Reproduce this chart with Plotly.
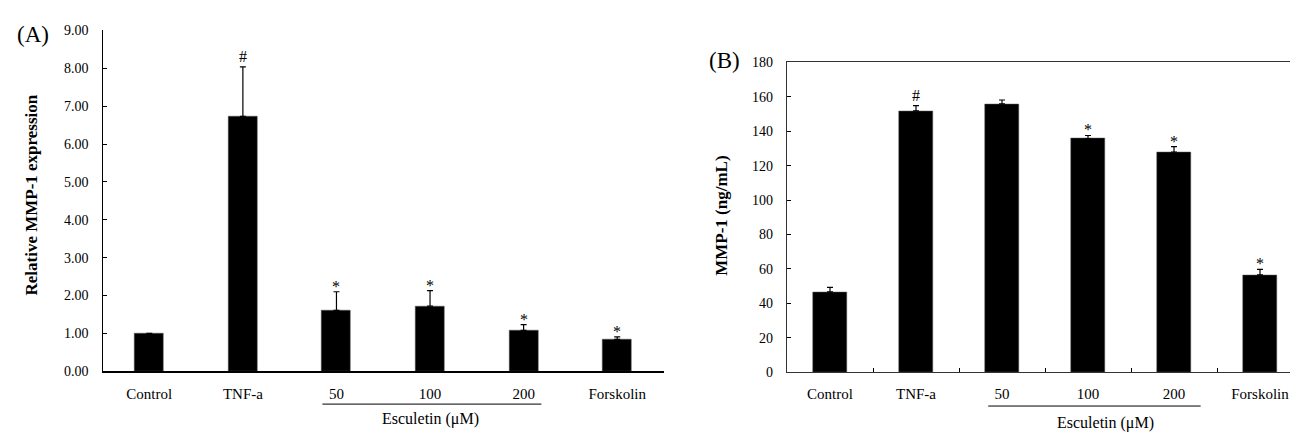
import plotly.graph_objects as go

categories = ["Control", "TNF-a", "50", "100", "200", "Forskolin"]

# Panel A: relative MMP-1 expression
a_values = [1.00, 6.73, 1.61, 1.72, 1.08, 0.84]
a_errors = [0.00, 1.31, 0.49, 0.41, 0.15, 0.07]
a_marks = ["", "#", "*", "*", "*", "*"]

# Panel B: MMP-1 (ng/mL)
b_values = [46.7, 151.8, 155.9, 135.7, 127.9, 56.5]
b_errors = [2.6, 3.0, 2.2, 1.8, 3.1, 3.3]
b_marks = ["", "#", "", "*", "*", "*"]

FONT = "Liberation Serif"

fig = go.Figure()

fig.add_trace(go.Bar(
    x=categories, y=a_values, xaxis="x", yaxis="y",
    marker=dict(color="black", line=dict(color="#555", width=0.5)),
    width=0.31,
    error_y=dict(type="data", array=a_errors, arrayminus=[0]*len(a_errors),
                 symmetric=False, color="black", thickness=1.2, width=3),
    showlegend=False,
))
fig.add_trace(go.Bar(
    x=categories, y=b_values, xaxis="x2", yaxis="y2",
    marker=dict(color="black", line=dict(color="#555", width=0.5)),
    width=0.4,
    error_y=dict(type="data", array=b_errors, arrayminus=[0]*len(b_errors),
                 symmetric=False, color="black", thickness=1.2, width=3),
    showlegend=False,
))

annotations = []
for i, (v, e, m) in enumerate(zip(a_values, a_errors, a_marks)):
    if m:
        annotations.append(dict(x=i, y=v + e, xref="x", yref="y", text=m, showarrow=False,
                                yanchor="bottom", yshift=(0 if m == "#" else -5),
                                font=dict(family=FONT, size=16, color="black")))
for i, (v, e, m) in enumerate(zip(b_values, b_errors, b_marks)):
    if m:
        annotations.append(dict(x=i, y=v + e, xref="x2", yref="y2", text=m, showarrow=False,
                                yanchor="bottom", yshift=(0 if m == "#" else -5),
                                font=dict(family=FONT, size=16, color="black")))

# Panel labels and axis titles
annotations += [
    dict(x=25 / 1298, y=1 - 20 / 435, xref="paper", yref="paper", text="(A)", showarrow=False,
         xanchor="center", yanchor="middle", font=dict(family=FONT, size=23, color="black")),
    dict(x=716 / 1298, y=1 - 47 / 435, xref="paper", yref="paper", text="(B)", showarrow=False,
         xanchor="center", yanchor="middle", font=dict(family=FONT, size=23, color="black")),
    dict(x=24 / 1298, y=1 - 187 / 435, xref="paper", yref="paper", text="<b>Relative MMP-1 expression</b>",
         textangle=-90, showarrow=False, xanchor="center", yanchor="middle",
         font=dict(family=FONT, size=17, color="black")),
    dict(x=714 / 1298, y=1 - 208 / 435, xref="paper", yref="paper", text="<b>MMP-1 (ng/mL)</b>",
         textangle=-90, showarrow=False, xanchor="center", yanchor="middle",
         font=dict(family=FONT, size=17, color="black")),
    dict(x=3.0, y=1 - 418 / 435, xref="x", yref="paper", text="Esculetin (μM)", showarrow=False,
         xanchor="center", yanchor="middle", font=dict(family=FONT, size=16, color="black")),
    dict(x=3.2, y=1 - 423 / 435, xref="x2", yref="paper", text="Esculetin (μM)", showarrow=False,
         xanchor="center", yanchor="middle", font=dict(family=FONT, size=16, color="black")),
]

shapes = [
    dict(type="line", xref="x", yref="paper", x0=1.85, x1=4.19, y0=1 - 403 / 435, y1=1 - 403 / 435,
         line=dict(color="black", width=1)),
    dict(type="line", xref="x2", yref="paper", x0=1.84, x1=4.31, y0=1 - 405 / 435, y1=1 - 405 / 435,
         line=dict(color="black", width=1)),
]

tickfont = dict(family=FONT, size=14, color="black")
xtickfont = dict(family=FONT, size=15, color="black")

fig.update_layout(
    width=1298, height=435,
    margin=dict(l=0, r=0, t=0, b=0),
    paper_bgcolor="white", plot_bgcolor="white",
    bargap=0,
    annotations=annotations, shapes=shapes,
    xaxis=dict(domain=[94.5 / 1298, 656 / 1298], anchor="y", type="category",
               showline=True, linecolor="black", linewidth=1.5, ticks="",
               showgrid=False, tickfont=xtickfont, ticklabelstandoff=8,
               range=[-0.5, 5.5]),
    yaxis=dict(domain=[(435 - 369) / 435, (435 - 16) / 435], anchor="x",
               range=[0, 9], dtick=1, tickformat=".2f",
               showline=True, linecolor="black", linewidth=1.2,
               ticks="inside", ticklen=4, tickcolor="black",
               showgrid=False, zeroline=False, tickfont=tickfont, ticklabelstandoff=10),
    xaxis2=dict(domain=[779 / 1298, 1295 / 1298], anchor="y2", type="category",
                showline=True, linecolor="#333", linewidth=1.2, mirror=True,
                ticks="inside", tickson="boundaries", ticklen=4, tickcolor="black",
                showgrid=False, tickfont=xtickfont, ticklabelstandoff=8,
                range=[-0.5, 5.5]),
    yaxis2=dict(domain=[(435 - 370) / 435, (435 - 49) / 435], anchor="x2",
                range=[0, 180], dtick=20,
                showline=True, linecolor="#333", linewidth=1.2, mirror=True,
                ticks="inside", ticklen=4, tickcolor="black",
                showgrid=False, zeroline=False, tickfont=tickfont, ticklabelstandoff=10),
)

fig.write_html("out.html")
